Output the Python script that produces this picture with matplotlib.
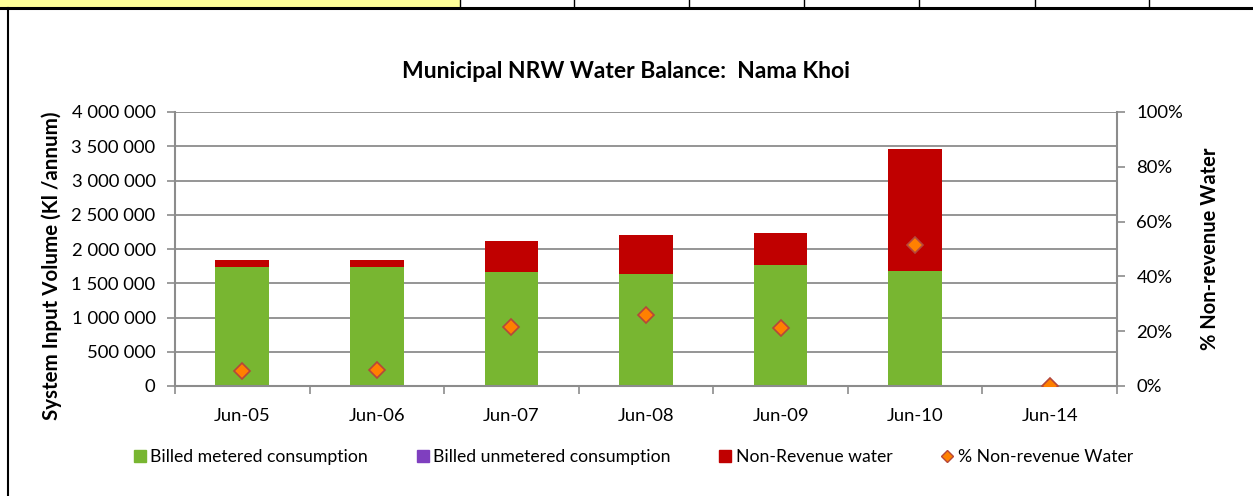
import matplotlib
matplotlib.use("Agg")
import matplotlib.pyplot as plt
from matplotlib.lines import Line2D
from matplotlib.patches import Rectangle
from matplotlib.ticker import FuncFormatter, MultipleLocator
import numpy as np

plt.rcParams['font.family'] = ['Lato', 'DejaVu Sans']

# Water balance data (kl / annum)
periods = ["Jun-05", "Jun-06", "Jun-07", "Jun-08", "Jun-09", "Jun-10", "Jun-14"]
billed_metered = [1743000, 1738000, 1665000, 1636000, 1762000, 1684000, 0]
billed_unmetered = [0, 0, 0, 0, 0, 0, 0]
non_revenue = [102000, 107000, 458000, 574000, 473000, 1777000, 0]
pct_nrw = [5.5, 5.8, 21.6, 26.0, 21.2, 51.3, 0.0]

green = "#78B631"
purple = "#7F3FBF"
red = "#C00000"
orange = "#FF8000"
grid_grey = "#8C8C8C"

fig = plt.figure(figsize=(12.53, 4.96), dpi=100)
ax = fig.add_axes([175 / 1253, 1 - 386 / 496, (1117 - 175) / 1253, (386 - 112) / 496])

x = np.arange(len(periods))
w = 0.40
ax.bar(x, billed_metered, w, color=green, label="Billed metered consumption", zorder=2)
bottom2 = np.array(billed_metered)
ax.bar(x, billed_unmetered, w, bottom=bottom2, color=purple,
       label="Billed unmetered consumption", zorder=2)
bottom3 = bottom2 + np.array(billed_unmetered)
ax.bar(x, non_revenue, w, bottom=bottom3, color=red, label="Non-Revenue water", zorder=2)

tick_fs = 13.3
ax.set_xlim(-0.5, len(periods) - 0.5)
ax.set_ylim(0, 4000000)
ax.yaxis.set_major_locator(MultipleLocator(500000))
ax.yaxis.set_major_formatter(FuncFormatter(lambda v, p: f"{int(v):,}".replace(",", " ")))
ax.set_xticks(x)
ax.set_xticklabels(periods)
ax.tick_params(axis="x", length=0, pad=16, labelsize=tick_fs)
ax.set_xticks(np.arange(-0.5, len(periods)), minor=True)
ax.tick_params(axis="x", which="minor", length=6, width=1.2, color=grid_grey, direction="out")
ax.tick_params(axis="y", length=6, width=1.2, color=grid_grey, labelsize=tick_fs, pad=8)
ax.grid(axis="y", color=grid_grey, linewidth=1.3)
ax.set_axisbelow(True)
for s in ["top", "right"]:
    ax.spines[s].set_visible(False)
for s in ["left", "bottom"]:
    ax.spines[s].set_color(grid_grey)
    ax.spines[s].set_linewidth(1.5)
ax.set_ylabel("System Input Volume (Kl /annum)", fontsize=14.8, fontweight="bold")
ax.yaxis.set_label_coords(-0.12, 0.44)

ax2 = ax.twinx()
ax2.plot(x, pct_nrw, linestyle="none", marker="D", markersize=8.5,
         markerfacecolor=orange, markeredgecolor="#B5473A", markeredgewidth=1.2,
         label="% Non-revenue Water", zorder=5)
ax2.set_ylim(0, 100)
ax2.yaxis.set_major_locator(MultipleLocator(20))
ax2.yaxis.set_major_formatter(FuncFormatter(lambda v, p: f"{int(v)}%"))
ax2.tick_params(axis="y", length=6, width=1.2, color=grid_grey, labelsize=tick_fs, pad=8)
for s in ["top", "left", "bottom"]:
    ax2.spines[s].set_visible(False)
ax2.spines["right"].set_color(grid_grey)
ax2.spines["right"].set_linewidth(1.5)
ax2.set_ylabel("% Non-revenue Water", fontsize=14.5, fontweight="bold", labelpad=12)

fig.text(0.5, 1 - 72 / 496, "Municipal NRW Water Balance:  Nama Khoi", ha="center",
         va="center", fontsize=16.5, fontweight="bold")

handles = [
    Line2D([], [], linestyle="none", marker="s", markersize=8, color=green),
    Line2D([], [], linestyle="none", marker="s", markersize=8, color=purple),
    Line2D([], [], linestyle="none", marker="s", markersize=8, color=red),
    Line2D([], [], linestyle="none", marker="D", markersize=6,
           markerfacecolor=orange, markeredgecolor="#B5473A"),
]
labels = ["Billed metered consumption", "Billed unmetered consumption",
          "Non-Revenue water", "% Non-revenue Water"]
fig.legend(handles, labels, loc="center", bbox_to_anchor=(632 / 1253, 1 - 457 / 496),
           ncol=4, frameon=False, fontsize=12.7, handletextpad=0.1, columnspacing=2.6,
           handlelength=1.0)

# Surrounding worksheet cells and chart frame
fig.add_artist(Rectangle((0, 1 - 7 / 496), 460 / 1253, 7 / 496, transform=fig.transFigure,
                         facecolor="#FFFF99", edgecolor="none"))
for xv in [460, 574, 689, 804, 919, 1035, 1149]:
    fig.add_artist(Line2D([xv / 1253, xv / 1253], [1 - 7 / 496, 1], transform=fig.transFigure,
                          color="black", linewidth=1))
fig.add_artist(Line2D([0, 1], [1 - 7.5 / 496, 1 - 7.5 / 496], transform=fig.transFigure,
                      color="black", linewidth=2.2))
fig.add_artist(Line2D([8 / 1253, 8 / 1253], [0, 1 - 7.5 / 496], transform=fig.transFigure,
                      color="black", linewidth=1.5))

fig.savefig("out.png", dpi=100)
